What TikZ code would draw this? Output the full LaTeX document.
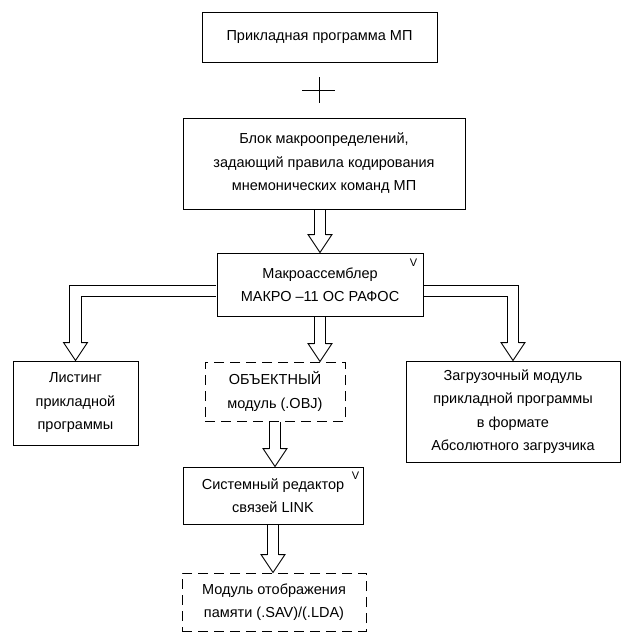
\documentclass[tikz,border=0pt]{standalone}
\usepackage{fontspec}
\setmainfont{Liberation Sans}
\newcommand{\openhead}[1]{%
  \draw[pipeline] ([xshift=-5.6pt,yshift=18pt]#1) -- ([xshift=-12pt,yshift=18pt]#1) -- (#1)
    -- ([xshift=12pt,yshift=18pt]#1) -- ([xshift=5.6pt,yshift=18pt]#1);}
\newcommand{\vpipe}[2]{%
  \draw[pipeline] ([xshift=-5.6pt,yshift=-0.5pt]#1) -- ([xshift=-5.6pt,yshift=18pt]#2)
    ([xshift=5.6pt,yshift=-0.5pt]#1) -- ([xshift=5.6pt,yshift=18pt]#2);
  \openhead{#2}}
\begin{document}
\begin{tikzpicture}[x=1pt, y=1pt,
  box/.style={draw, line width=0.9pt, inner sep=0pt, align=center,
    font=\fontsize{14.5}{23.5}\selectfont},
  dbox/.style={box, dash pattern=on 10pt off 6pt},
  pipeline/.style={line width=0.9pt},
  vtick/.style={font=\fontsize{11}{11}\selectfont, inner sep=0pt}]
 \useasboundingbox (0,0) rectangle (625,-633);
 \node[box, minimum width=235, minimum height=50] (prog) at (319.5,-37) {Прикладная программа МП};
 \node[box, minimum width=282, minimum height=91] (blk) at (324,-163.5)
   {Блок макроопределений,\\задающий правила кодирования\\мнемонических команд МП};
 \node[box, minimum width=206, minimum height=63] (macro) at (320,-284.5)
   {Макроассемблер\\МАКРО –11 ОС РАФОС};
 \node[vtick] (vmacro) at ([shift={(-10,-10)}]macro.north east) {V};
 \node[box, minimum width=125, minimum height=84] (list) at (75.5,-403)
   {Листинг\\прикладной\\программы};
 \node[dbox, minimum width=140, minimum height=59] (obj) at (275,-391.5)
   {ОБЪЕКТНЫЙ\\модуль (.OBJ)};
 \node[box, minimum width=214, minimum height=101] (load) at (513,-411.5)
   {Загрузочный модуль\\прикладной программы\\в формате\\Абсолютного загрузчика};
 \node[box, minimum width=180, minimum height=57] (sys) at (273,-495.5)
   {Системный редактор\\связей LINK};
 \node[vtick] (vsys) at ([shift={(-8,-9)}]sys.north east) {V};
 \node[dbox, minimum width=184, minimum height=58] (mem) at (274,-602)
   {Модуль отображения\\памяти (.SAV)/(.LDA)};
 \coordinate (plus) at (319,-90);
 \draw[pipeline] ([xshift=-17]plus) -- ([xshift=16]plus) ([yshift=13]plus) -- ([yshift=-13]plus);
 \vpipe{blk.south -| macro.north}{macro.north}
 \draw[pipeline] ([xshift=-0.5,yshift=-1]macro.west) -| ([xshift=-5.6,yshift=18]list.north);
 \draw[pipeline] ([xshift=-0.5,yshift=-12.2]macro.west) -| ([xshift=5.6,yshift=18]list.north);
 \openhead{list.north}
 \draw[pipeline] ([xshift=0.5,yshift=-1]macro.east) -| ([xshift=5.6,yshift=18]load.north);
 \draw[pipeline] ([xshift=0.5,yshift=-12.2]macro.east) -| ([xshift=-5.6,yshift=18]load.north);
 \openhead{load.north}
 \coordinate (objtip) at (macro.south |- obj.north);
 \vpipe{macro.south}{objtip}
 \coordinate (systip) at (obj.south |- sys.north);
 \vpipe{obj.south}{systip}
 \coordinate (memtip) at (sys.south |- mem.north);
 \vpipe{sys.south}{memtip}
\end{tikzpicture}
\end{document}
